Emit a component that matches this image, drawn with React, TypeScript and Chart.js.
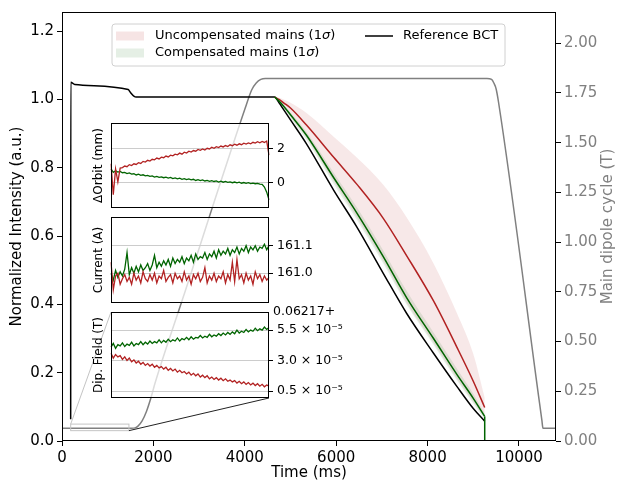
import React, { useEffect, useRef } from "react";
import { Chart, registerables } from "chart.js";

Chart.register(...registerables);

const FONT = "'DejaVu Sans', sans-serif";
const MAIN_FS = 15;

// ---------------- main axes ticks ----------------
const timeTicks = [0, 2000, 4000, 6000, 8000, 10000];
const intensityTicks = [0, 0.2, 0.4, 0.6, 0.8, 1.0, 1.2];
const dipoleTicks = [0, 0.25, 0.5, 0.75, 1.0, 1.25, 1.5, 1.75, 2.0];

// ---------------- main data ----------------
const dipoleTime = [0, 1520, 1600, 1663, 1750, 1850, 1950, 2035, 2648, 4004, 4150, 4250, 4350, 4450, 9300, 9400, 9450, 9500, 9550, 10450, 10500, 10525, 10810];
const dipoleField = [0.064, 0.064, 0.066, 0.075, 0.1, 0.15, 0.22, 0.29, 0.72, 1.67, 1.765, 1.8, 1.818, 1.823, 1.823, 1.818, 1.8, 1.77, 1.707, 0.19, 0.106, 0.064, 0.064];

const bctTime = [190, 192, 280, 1450, 1500, 1580, 1620, 4650, 4750, 4850, 5000, 5350, 5950, 6450, 7030, 7540, 8130, 8640, 9000, 9250];
const bctIntensity = [0.064, 1.05, 1.044, 1.029, 1.02, 1.009, 1.007, 1.007, 0.99, 0.97, 0.94, 0.87, 0.733, 0.627, 0.491, 0.374, 0.257, 0.16, 0.095, 0.058];

const rampTime = [4650, 4750, 4850, 5000, 5350, 5950, 6450, 7030, 7540, 8130, 8640, 9000, 9250];
const uncompMean = [1.007, 1.0, 0.99, 0.975, 0.925, 0.83, 0.752, 0.652, 0.543, 0.41, 0.275, 0.175, 0.098];
const compMean = [1.007, 0.995, 0.98, 0.955, 0.895, 0.77, 0.668, 0.54, 0.42, 0.3, 0.195, 0.125, 0.072];

// beam dump at the end of the cycle
const dumpTime = [9250, 9250];
const dumpIntensity = [0.072, 0];

const uncompUpper = [1.007, 1.005, 1.0, 0.99, 0.96, 0.89, 0.83, 0.75, 0.655, 0.52, 0.375, 0.255, 0.127];
const uncompLower = [1.007, 0.993, 0.977, 0.95, 0.888, 0.76, 0.655, 0.527, 0.405, 0.288, 0.183, 0.115, 0.068];
const compUpper = [1.007, 0.997, 0.984, 0.962, 0.905, 0.785, 0.685, 0.558, 0.44, 0.318, 0.212, 0.138, 0.08];
const compLower = [1.007, 0.992, 0.974, 0.946, 0.882, 0.752, 0.648, 0.52, 0.4, 0.282, 0.178, 0.11, 0.064];

// zoomed region (time in ms, dipole field in T)
const zoomTime = [190, 1465];
const zoomField = [0.052, 0.085];

// ---------------- inset data ----------------
const orbitUncomp = [1.1, -0.7, 0.8, 0.05, 0.85, 0.88, 0.97, 0.93, 1.05, 1.0, 1.1, 1.06, 1.16, 1.12, 1.24, 1.2, 1.3, 1.26, 1.36, 1.33, 1.43, 1.38, 1.48, 1.45, 1.55, 1.5, 1.6, 1.56, 1.66, 1.62, 1.72, 1.66, 1.77, 1.72, 1.83, 1.78, 1.87, 1.83, 1.93, 1.88, 1.96, 1.9, 2.0, 1.96, 2.06, 2.0, 2.09, 2.04, 2.13, 2.08, 2.16, 2.1, 2.2, 2.15, 2.24, 2.18, 2.26, 2.21, 2.3, 2.25, 2.31, 2.26, 2.35, 2.3, 2.38, 2.32, 2.4, 2.34, 2.42, 1.6];
const orbitComp = [0.8, 0.6, 0.7, 0.62, 0.66, 0.58, 0.6, 0.53, 0.57, 0.5, 0.52, 0.45, 0.5, 0.43, 0.46, 0.4, 0.43, 0.37, 0.4, 0.33, 0.37, 0.31, 0.34, 0.29, 0.32, 0.27, 0.31, 0.24, 0.28, 0.22, 0.26, 0.2, 0.24, 0.18, 0.22, 0.17, 0.2, 0.13, 0.18, 0.12, 0.16, 0.1, 0.13, 0.08, 0.12, 0.07, 0.1, 0.04, 0.09, 0.03, 0.07, 0.02, 0.05, 0.0, 0.04, -0.01, 0.03, -0.03, 0.01, -0.04, 0.0, -0.05, -0.02, -0.06, -0.04, -0.08, -0.1, -0.25, -0.55, -1.0];
const orbitTicks = [0, 2];

const currentUncomp = [161.04, 160.94, 160.99, 161.0, 160.96, 160.98, 160.995, 160.97, 160.985, 160.96, 161.0, 160.975, 160.99, 160.965, 161.005, 160.98, 160.97, 160.995, 160.975, 161.0, 160.965, 160.99, 160.98, 161.01, 160.97, 160.985, 160.995, 160.965, 161.0, 160.98, 160.99, 160.97, 161.005, 160.975, 160.99, 160.96, 160.995, 160.98, 161.0, 160.97, 160.985, 161.02, 160.965, 160.99, 160.975, 161.0, 160.97, 160.99, 160.98, 161.005, 160.965, 160.995, 160.975, 161.04, 160.97, 161.05, 160.98, 160.995, 160.965, 161.0, 160.975, 160.99, 160.96, 161.005, 160.98, 160.995, 160.97, 160.99, 160.975, 160.985];
const currentComp = [161.0, 160.975, 161.01, 160.985, 161.005, 160.99, 161.015, 161.075, 160.995, 161.02, 161.0, 161.025, 161.005, 161.03, 161.01, 161.02, 161.035, 161.01, 161.03, 161.065, 161.02, 161.04, 161.025, 161.045, 161.03, 161.05, 161.025, 161.055, 161.035, 161.05, 161.04, 161.06, 161.035, 161.055, 161.045, 161.065, 161.04, 161.07, 161.05, 161.06, 161.055, 161.075, 161.05, 161.07, 161.06, 161.08, 161.055, 161.085, 161.065, 161.08, 161.07, 161.09, 161.065, 161.085, 161.075, 161.095, 161.07, 161.09, 161.08, 161.1, 161.075, 161.095, 161.085, 161.1, 161.08, 161.095, 161.09, 161.105, 161.085, 161.1];
const currentTicks = [161.0, 161.1];

// dipole field offsets from 0.06217 T, in units of 1e-5 T
const fieldUncomp = [3.6, 3.2, 3.5, 3.3, 3.4, 3.1, 3.3, 3.0, 3.2, 2.9, 3.05, 2.8, 2.95, 2.7, 2.85, 2.6, 2.75, 2.55, 2.7, 2.45, 2.6, 2.4, 2.5, 2.3, 2.45, 2.2, 2.35, 2.15, 2.3, 2.05, 2.2, 2.0, 2.1, 1.9, 2.05, 1.8, 1.95, 1.75, 1.9, 1.65, 1.8, 1.6, 1.75, 1.5, 1.65, 1.45, 1.6, 1.4, 1.55, 1.35, 1.5, 1.3, 1.4, 1.25, 1.35, 1.15, 1.3, 1.1, 1.25, 1.05, 1.2, 1.0, 1.15, 0.95, 1.1, 0.9, 1.05, 0.85, 1.0, 0.9];
const fieldComp = [4.1, 4.4, 4.0, 4.3, 4.2, 4.45, 4.15, 4.35, 4.25, 4.5, 4.2, 4.4, 4.3, 4.55, 4.3, 4.5, 4.35, 4.6, 4.4, 4.55, 4.45, 4.7, 4.45, 4.65, 4.5, 4.75, 4.55, 4.7, 4.6, 4.85, 4.6, 4.8, 4.7, 4.9, 4.7, 4.95, 4.75, 4.9, 4.85, 5.05, 4.85, 5.0, 4.9, 5.15, 4.95, 5.1, 5.0, 5.2, 5.05, 5.25, 5.1, 5.3, 5.15, 5.35, 5.2, 5.5, 5.25, 5.4, 5.3, 5.55, 5.35, 5.5, 5.4, 5.65, 5.45, 5.6, 5.5, 5.75, 5.55, 5.7];
const fieldTicks = [0.5, 3.0, 5.5];

const legendLabels = ["Uncompensated mains (1", "Compensated mains (1", "Reference BCT"];

// ---------------- colours / layout ----------------
const RED = "#b22222";
const GREEN = "#006400";
const GRAY = "#808080";

const W = 617;
const H = 481;
const INSET_LEFT = 80;
const INSET_W = 280;
const INSET_PAD_L = 31;
const INSET_AXIS_W = 91;
const INSET_PAD_V = 14;
const INSETS = [
  { top: 123, bottom: 208 },
  { top: 217, bottom: 303 },
  { top: 312, bottom: 398 },
];

const pts = (xs: number[], ys: number[]) => xs.map((x, i) => ({ x, y: ys[i] }));

const mainDecor = {
  id: "mainDecor",
  beforeDraw(chart: any) {
    const { ctx } = chart;
    ctx.save();
    ctx.fillStyle = "#ffffff";
    ctx.fillRect(0, 0, chart.width, chart.height);
    ctx.restore();
  },
  afterDatasetsDraw(chart: any) {
    const { ctx, scales } = chart;
    const x0 = scales.x.getPixelForValue(zoomTime[0]);
    const x1 = scales.x.getPixelForValue(zoomTime[1]);
    const yT = scales.y2.getPixelForValue(zoomField[1]);
    const yB = scales.y2.getPixelForValue(zoomField[0]);
    const inset = INSETS[2];
    const iL = INSET_LEFT + INSET_PAD_L;
    const iR = INSET_LEFT + INSET_W - INSET_AXIS_W;
    ctx.save();
    ctx.lineWidth = 1;
    ctx.strokeStyle = "#c4c4c4";
    ctx.strokeRect(x0, yT, x1 - x0, yB - yT);
    ctx.beginPath();
    ctx.moveTo(x0, yT);
    ctx.lineTo(iL, inset.top);
    ctx.stroke();
    ctx.strokeStyle = "#222222";
    ctx.beginPath();
    ctx.moveTo(x1, yB);
    ctx.lineTo(iR, inset.bottom);
    ctx.stroke();
    ctx.restore();
  },
  afterDraw(chart: any) {
    const { ctx, chartArea: a } = chart;
    ctx.save();
    ctx.strokeStyle = "#000";
    ctx.lineWidth = 1;
    ctx.strokeRect(Math.round(a.left) + 0.5, Math.round(a.top) + 0.5, Math.round(a.right - a.left) - 1, Math.round(a.bottom - a.top) - 1);

    ctx.font = `${MAIN_FS}px ${FONT}`;
    ctx.fillStyle = "#000";
    ctx.textAlign = "center";
    ctx.textBaseline = "middle";
    ctx.fillText("Time (ms)", (a.left + a.right) / 2, 473);
    const cy = (a.top + a.bottom) / 2;
    ctx.save();
    ctx.translate(17, cy);
    ctx.rotate(-Math.PI / 2);
    ctx.fillText("Normalized Intensity (a.u.)", 0, 0);
    ctx.restore();
    ctx.save();
    ctx.translate(608, cy);
    ctx.rotate(-Math.PI / 2);
    ctx.fillStyle = GRAY;
    ctx.fillText("Main dipole cycle (T)", 0, 0);
    ctx.restore();

    // legend
    const lx = 112, ly = 24, lw = 393, lh = 42, r = 3;
    ctx.beginPath();
    ctx.moveTo(lx + r, ly);
    ctx.lineTo(lx + lw - r, ly);
    ctx.quadraticCurveTo(lx + lw, ly, lx + lw, ly + r);
    ctx.lineTo(lx + lw, ly + lh - r);
    ctx.quadraticCurveTo(lx + lw, ly + lh, lx + lw - r, ly + lh);
    ctx.lineTo(lx + r, ly + lh);
    ctx.quadraticCurveTo(lx, ly + lh, lx, ly + lh - r);
    ctx.lineTo(lx, ly + r);
    ctx.quadraticCurveTo(lx, ly, lx + r, ly);
    ctx.closePath();
    ctx.fillStyle = "rgba(255,255,255,0.8)";
    ctx.fill();
    ctx.lineWidth = 1;
    ctx.strokeStyle = "#d0d0d0";
    ctx.stroke();

    const rows = [36, 53];
    ctx.fillStyle = "rgba(178,34,34,0.12)";
    ctx.fillRect(116, rows[0] - 4.5, 28, 9);
    ctx.fillStyle = "rgba(0,100,0,0.1)";
    ctx.fillRect(116, rows[1] - 4.5, 28, 9);
    ctx.strokeStyle = "#000";
    ctx.lineWidth = 1.5;
    ctx.beginPath();
    ctx.moveTo(365, rows[0]);
    ctx.lineTo(393, rows[0]);
    ctx.stroke();

    ctx.textAlign = "left";
    ctx.fillStyle = "#000";
    const drawSigma = (label: string, x: number, y: number) => {
      ctx.font = `13px ${FONT}`;
      ctx.fillText(label, x, y);
      let w = ctx.measureText(label).width;
      ctx.font = `italic 13px ${FONT}`;
      ctx.fillText("σ", x + w, y);
      w += ctx.measureText("σ").width;
      ctx.font = `13px ${FONT}`;
      ctx.fillText(")", x + w, y);
    };
    drawSigma(legendLabels[0], 155, rows[0]);
    drawSigma(legendLabels[1], 155, rows[1]);
    ctx.font = `13px ${FONT}`;
    ctx.fillText(legendLabels[2], 403, rows[0]);
    ctx.restore();
  },
};

const insetDecor = {
  id: "insetDecor",
  beforeDraw(chart: any) {
    const { ctx, chartArea: a } = chart;
    ctx.save();
    ctx.fillStyle = "rgba(255,255,255,0.72)";
    ctx.fillRect(a.left, a.top, a.right - a.left, a.bottom - a.top);
    ctx.restore();
  },
  afterDraw(chart: any, _args: any, opts: any) {
    const { ctx, chartArea: a } = chart;
    ctx.save();
    ctx.strokeStyle = "#000";
    ctx.lineWidth = 1;
    ctx.strokeRect(Math.round(a.left) + 0.5, Math.round(a.top) + 0.5, Math.round(a.right - a.left) - 1, Math.round(a.bottom - a.top) - 1);
    ctx.fillStyle = "#000";
    ctx.font = `12px ${FONT}`;
    ctx.textAlign = "center";
    ctx.textBaseline = "middle";
    ctx.save();
    ctx.translate(19, (a.top + a.bottom) / 2);
    ctx.rotate(-Math.PI / 2);
    ctx.fillText(opts.label, 0, 0);
    ctx.restore();
    if (opts.offset) {
      ctx.textAlign = "left";
      ctx.font = `12.5px ${FONT}`;
      ctx.fillText(opts.offset, a.right + 4, a.top);
    }
    ctx.restore();
  },
};

function makeInset(
  canvas: HTMLCanvasElement,
  uncomp: number[],
  comp: number[],
  min: number,
  max: number,
  ticks: number[],
  fmt: (v: number) => string,
  label: string,
  offset?: string
) {
  const labels = uncomp.map((_, i) => i);
  return new Chart(canvas, {
    type: "line",
    data: {
      labels,
      datasets: [
        { data: uncomp, borderColor: RED, borderWidth: 1.3, pointRadius: 0, tension: 0 },
        { data: comp, borderColor: GREEN, borderWidth: 1.3, pointRadius: 0, tension: 0 },
      ],
    },
    plugins: [insetDecor],
    options: {
      responsive: false,
      animation: false,
      events: [],
      layout: { padding: { left: INSET_PAD_L, right: 0, top: INSET_PAD_V, bottom: INSET_PAD_V } },
      plugins: {
        legend: { display: false },
        tooltip: { enabled: false },
        insetDecor: { label, offset },
      } as any,
      scales: {
        x: { type: "category", display: false, offset: false },
        y: {
          position: "right",
          min,
          max,
          afterBuildTicks: (axis: any) => {
            axis.ticks = ticks.map((v) => ({ value: v }));
          },
          afterFit: (s: any) => {
            s.width = INSET_AXIS_W;
          },
          ticks: {
            color: "#000",
            font: { family: FONT, size: 12.5 },
            padding: 4,
            callback: (v: any) => fmt(Number(v)),
          },
          grid: { color: "#cccccc", lineWidth: 1, tickLength: 4, tickColor: "#000", drawOnChartArea: true },
          border: { display: false },
        },
      },
    },
  } as any);
}

export default function App() {
  const mainRef = useRef<HTMLCanvasElement>(null);
  const orbitRef = useRef<HTMLCanvasElement>(null);
  const currentRef = useRef<HTMLCanvasElement>(null);
  const fieldRef = useRef<HTMLCanvasElement>(null);

  useEffect(() => {
    const smooth = { cubicInterpolationMode: "monotone", pointRadius: 0, yAxisID: "y" };
    const main = new Chart(mainRef.current!, {
      type: "line",
      data: {
        datasets: [
          { ...smooth, data: pts(dumpTime, dumpIntensity), borderColor: GREEN, borderWidth: 1.5, fill: false },
          { ...smooth, data: pts(rampTime, compMean), borderColor: GREEN, borderWidth: 1.5, fill: false },
          { ...smooth, data: pts(rampTime, uncompMean), borderColor: RED, borderWidth: 1.5, fill: false },
          { ...smooth, data: pts(bctTime, bctIntensity), borderColor: "#000", borderWidth: 1.5, fill: false },
          { ...smooth, data: pts(rampTime, compUpper), borderColor: "transparent", borderWidth: 0, backgroundColor: "rgba(0,100,0,0.1)", fill: "+1" },
          { ...smooth, data: pts(rampTime, compLower), borderColor: "transparent", borderWidth: 0, fill: false },
          { ...smooth, data: pts(rampTime, uncompUpper), borderColor: "transparent", borderWidth: 0, backgroundColor: "rgba(178,34,34,0.1)", fill: "+1" },
          { ...smooth, data: pts(rampTime, uncompLower), borderColor: "transparent", borderWidth: 0, fill: false },
          { ...smooth, data: pts(dipoleTime, dipoleField), borderColor: GRAY, borderWidth: 1.5, fill: false, yAxisID: "y2" },
        ],
      },
      plugins: [mainDecor],
      options: {
        responsive: false,
        animation: false,
        events: [],
        layout: { padding: { top: 11, left: 0, right: 0, bottom: 0 } },
        plugins: { legend: { display: false }, tooltip: { enabled: false } },
        scales: {
          x: {
            type: "linear",
            min: 0,
            max: 10810,
            afterBuildTicks: (axis: any) => {
              axis.ticks = timeTicks.map((v) => ({ value: v }));
            },
            afterFit: (s: any) => {
              s.height = 40;
            },
            ticks: { color: "#000", font: { family: FONT, size: MAIN_FS }, padding: 3, maxRotation: 0, autoSkip: false, callback: (v: any) => String(v) },
            grid: { drawOnChartArea: false, tickLength: 5, tickColor: "#000", color: "#000" },
            border: { display: false },
          },
          y: {
            position: "left",
            min: 0,
            max: 1.256,
            afterBuildTicks: (axis: any) => {
              axis.ticks = intensityTicks.map((v) => ({ value: v }));
            },
            afterFit: (s: any) => {
              s.width = 62;
            },
            ticks: { color: "#000", font: { family: FONT, size: MAIN_FS }, padding: 3, autoSkip: false, callback: (v: any) => Number(v).toFixed(1) },
            grid: { drawOnChartArea: false, tickLength: 5, tickColor: "#000", color: "#000" },
            border: { display: false },
          },
          y2: {
            position: "right",
            min: 0,
            max: 2.157,
            afterBuildTicks: (axis: any) => {
              axis.ticks = dipoleTicks.map((v) => ({ value: v }));
            },
            afterFit: (s: any) => {
              s.width = 61;
            },
            ticks: { color: GRAY, font: { family: FONT, size: MAIN_FS }, padding: 3, autoSkip: false, callback: (v: any) => Number(v).toFixed(2) },
            grid: { drawOnChartArea: false, tickLength: 5, tickColor: "#000", color: "#000" },
            border: { display: false },
          },
        },
      },
    } as any);

    const orbit = makeInset(orbitRef.current!, orbitUncomp, orbitComp, -1.47, 3.47, orbitTicks, (v) => String(Math.round(v)), "ΔOrbit (mm)");
    const current = makeInset(currentRef.current!, currentUncomp, currentComp, 160.892, 161.204, currentTicks, (v) => v.toFixed(1), "Current (A)");
    const field = makeInset(fieldRef.current!, fieldUncomp, fieldComp, -0.07, 6.98, fieldTicks, (v) => `${v.toFixed(1)} × 10⁻⁵`, "Dip. Field (T)", "0.06217+");

    return () => {
      main.destroy();
      orbit.destroy();
      current.destroy();
      field.destroy();
    };
  }, []);

  const insetH = (i: number) => INSETS[i].bottom - INSETS[i].top + 2 * INSET_PAD_V;
  const insetStyle = (i: number): React.CSSProperties => ({
    position: "absolute",
    left: INSET_LEFT,
    top: INSETS[i].top - INSET_PAD_V,
    width: INSET_W,
    height: insetH(i),
  });

  return (
    <div style={{ position: "fixed", left: 0, top: 0, width: W, height: H, background: "#fff", overflow: "hidden" }}>
      <canvas ref={mainRef} width={W} height={H} style={{ position: "absolute", left: 0, top: 0, width: W, height: H }} />
      <canvas ref={orbitRef} width={INSET_W} height={insetH(0)} style={insetStyle(0)} />
      <canvas ref={currentRef} width={INSET_W} height={insetH(1)} style={insetStyle(1)} />
      <canvas ref={fieldRef} width={INSET_W} height={insetH(2)} style={insetStyle(2)} />
    </div>
  );
}
